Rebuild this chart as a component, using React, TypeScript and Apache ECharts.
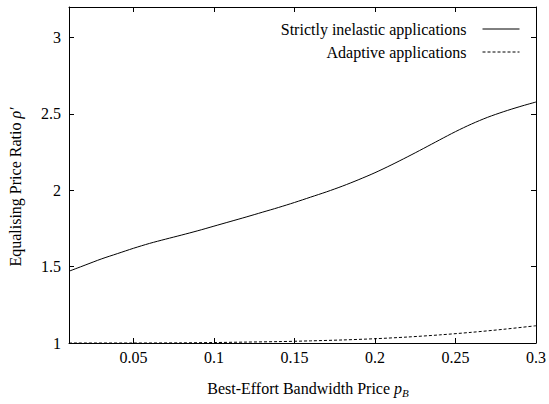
import React, { useEffect, useRef } from "react";
import * as echarts from "echarts";

const priceX = [0.01, 0.02, 0.03, 0.04, 0.05, 0.06, 0.07, 0.08, 0.09, 0.1, 0.11, 0.12, 0.13, 0.14, 0.15, 0.16, 0.17, 0.18, 0.19, 0.2, 0.21, 0.22, 0.23, 0.24, 0.25, 0.26, 0.27, 0.28, 0.29, 0.3];
const inelastic = [1.47, 1.51, 1.55, 1.585, 1.62, 1.652, 1.68, 1.707, 1.735, 1.765, 1.795, 1.825, 1.856, 1.887, 1.92, 1.955, 1.99, 2.028, 2.07, 2.115, 2.165, 2.218, 2.273, 2.329, 2.384, 2.434, 2.478, 2.515, 2.548, 2.578];
const adaptiveX = [0.01, 0.05, 0.08, 0.1, 0.12, 0.14, 0.16, 0.18, 0.2, 0.22, 0.24, 0.26, 0.28, 0.3];
const adaptive = [1.0, 1.0, 1.001, 1.003, 1.006, 1.009, 1.014, 1.02, 1.028, 1.039, 1.053, 1.07, 1.09, 1.113];
const xTicks = [0.05, 0.1, 0.15, 0.2, 0.25, 0.3];
const yTicks = [1, 1.5, 2, 2.5, 3];
const seriesNames = ["Strictly inelastic applications", "Adaptive applications"];

const FONT = "Liberation Serif";

export default function App() {
  const ref = useRef<HTMLDivElement>(null);
  useEffect(() => {
    const chart = echarts.init(ref.current!, undefined, { renderer: "svg" });
    const axisCommon = {
      axisLine: { show: true, onZero: false, lineStyle: { color: "#000", width: 1 } },
      splitLine: { show: false },
    };
    const tick = (vals: number[]) => ({
      show: true, inside: true, length: 5, customValues: vals, lineStyle: { color: "#000", width: 1 },
    });
    chart.setOption({
      animation: false,
      backgroundColor: "#fff",
      textStyle: { fontFamily: FONT },
      grid: { left: 69, right: 10, top: 7, bottom: 61 },
      xAxis: [
        {
          type: "value", min: 0.01, max: 0.3, position: "bottom", ...axisCommon,
          axisTick: tick(xTicks),
          axisLabel: { customValues: xTicks, color: "#000", fontFamily: FONT, fontSize: 16, margin: 6 },
        },
        {
          type: "value", min: 0.01, max: 0.3, position: "top", ...axisCommon,
          axisTick: tick(xTicks),
          axisLabel: { show: false },
        },
      ],
      yAxis: [
        {
          type: "value", min: 1, max: 3.2, position: "left", ...axisCommon,
          axisTick: tick(yTicks),
          axisLabel: { customValues: yTicks, color: "#000", fontFamily: FONT, fontSize: 16, margin: 8 },
        },
        {
          type: "value", min: 1, max: 3.2, position: "right", ...axisCommon,
          axisTick: tick(yTicks),
          axisLabel: { show: false },
        },
      ],
      legend: {
        orient: "vertical",
        right: 29,
        top: 21,
        padding: 0,
        align: "right",
        itemWidth: 37,
        itemHeight: 17,
        itemGap: 7,
        itemStyle: { opacity: 0 },
        lineStyle: { width: 1 },
        textStyle: { color: "#000", fontFamily: FONT, fontSize: 16, padding: [0, 11, 0, 0] },
        data: seriesNames,
      },
      series: [
        {
          name: seriesNames[0],
          type: "line",
          smooth: 0.3,
          symbol: "none",
          lineStyle: { color: "#000", width: 1 },
          itemStyle: { color: "#000" },
          data: priceX.map((x, i) => [x, inelastic[i]]),
        },
        {
          name: seriesNames[1],
          type: "line",
          smooth: 0.3,
          symbol: "none",
          lineStyle: { color: "#000", width: 1, type: [3, 2] },
          itemStyle: { color: "#000" },
          data: adaptiveX.map((x, i) => [x, adaptive[i]]),
        },
      ],
      graphic: [
        {
          type: "text",
          x: 308,
          y: 388,
          style: {
            text: "Best-Effort Bandwidth Price {it|p}{sub|B}",
            fontFamily: FONT,
            fontSize: 16,
            fill: "#000",
            align: "center",
            verticalAlign: "middle",
            rich: {
              it: { fontStyle: "italic", fontFamily: FONT, fontSize: 16, fill: "#000" },
              sub: { fontStyle: "italic", fontFamily: FONT, fontSize: 11, fill: "#000", padding: [9, 0, 0, 0] },
            },
          },
        },
        {
          type: "text",
          x: 15,
          y: 187,
          rotation: Math.PI / 2,
          style: {
            text: "Equalising Price Ratio {it|ρ′}",
            fontFamily: FONT,
            fontSize: 16,
            fill: "#000",
            align: "center",
            verticalAlign: "middle",
            rich: {
              it: { fontStyle: "italic", fontFamily: FONT, fontSize: 16, fill: "#000" },
            },
          },
        },
      ],
    });
    return () => chart.dispose();
  }, []);
  return <div ref={ref} style={{ width: 549, height: 404, position: "absolute", left: 0, top: 0 }} />;
}
